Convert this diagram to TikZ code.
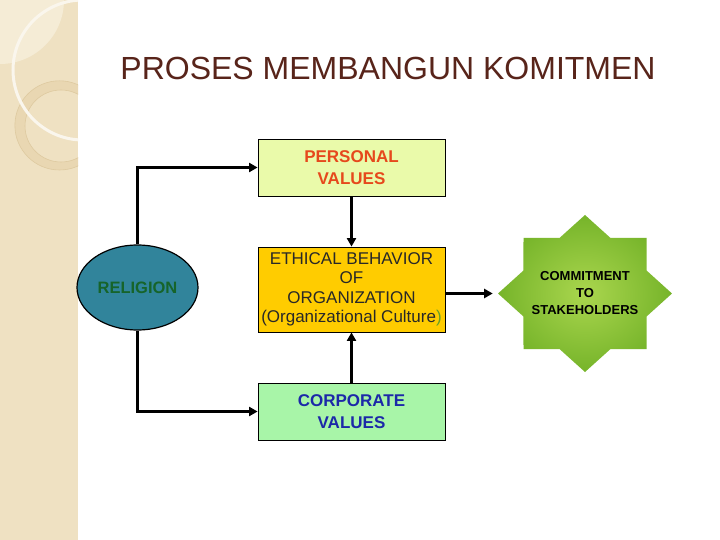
\documentclass[tikz,border=0pt]{standalone}
\usepackage{fontspec}
\setmainfont{Liberation Sans}
\usetikzlibrary{shapes.geometric,arrows.meta}
\definecolor{sidebar}{RGB}{239,225,194}
\definecolor{sidelight}{RGB}{245,236,214}
\definecolor{sidering}{RGB}{233,215,178}
\definecolor{sideline}{RGB}{222,202,160}
\definecolor{titlecol}{RGB}{88,36,26}
\definecolor{pvfill}{RGB}{234,250,170}
\definecolor{pvtext}{RGB}{230,72,28}
\definecolor{ebfill}{RGB}{255,204,0}
\definecolor{ebtext}{RGB}{40,40,40}
\definecolor{ebparen}{RGB}{100,160,40}
\definecolor{cvfill}{RGB}{168,245,168}
\definecolor{cvtext}{RGB}{28,40,168}
\definecolor{relfill}{RGB}{49,132,155}
\definecolor{reltext}{RGB}{22,100,42}
\definecolor{starin}{RGB}{170,214,78}
\definecolor{starout}{RGB}{118,180,42}
\tikzset{
  box/.style={draw=black, line width=0.8pt, minimum width=187pt, inner sep=0pt, align=center},
  conn/.style={line width=3pt, -{Triangle[length=8.5pt,width=9pt]}},
}
\begin{document}
\begin{tikzpicture}[x=1pt,y=-1pt]
\useasboundingbox (0,0) rectangle (720,540);
\fill[white] (0,0) rectangle (720,540);
% sidebar
\begin{scope}
\clip (0,0) rectangle (78,540);
\fill[sidebar] (0,0) rectangle (78,540);
\fill[sidelight] (0,0) circle[radius=64];
\fill[sidering,even odd rule] (59.5,125.4) circle[radius=44.6] (61,126) circle[radius=36];
\draw[sideline, line width=0.6pt] (59.5,125.4) circle[radius=44.6] (61,126) circle[radius=36];
\draw[white!70!sidebar, line width=3pt] (83,70) circle[radius=70];
\end{scope}
% title
\node[text=titlecol, font=\fontsize{32}{36}\selectfont] (title) at (388,68) {PROSES MEMBANGUN KOMITMEN};
% boxes
\node[box, fill=pvfill, minimum height=57pt, text=pvtext, font=\bfseries\fontsize{17}{22}\selectfont] (pv) at (351.5,167.5) {PERSONAL\\VALUES};
\node[box, fill=ebfill, minimum height=85pt, text=ebtext, font=\fontsize{17}{19.5}\selectfont] (eb) at (351.5,289.5) {ETHICAL BEHAVIOR\\OF\\ORGANIZATION\\(Organizational Culture\textcolor{ebparen}{)}};
\node[box, fill=cvfill, minimum height=57pt, text=cvtext, font=\bfseries\fontsize{17}{22}\selectfont] (cv) at (351.5,411.5) {CORPORATE\\VALUES};
\node[ellipse, draw=black, line width=1.2pt, fill=relfill, minimum width=121pt, minimum height=85pt, inner sep=0pt, text=reltext, font=\bfseries\fontsize{16.5}{20}\selectfont] (rel) at (137.5,287.5) {RELIGION};
% star
\node[star, star points=8, star point ratio=1.306, minimum size=157pt, inner sep=0pt, xscale=1.108, shading=radial, inner color=starin, outer color=starout] (st) at (585,293.5) {};
\node[font=\bfseries\fontsize{13}{17}\selectfont, align=center] (sttext) at (st.center) {COMMITMENT\\TO\\STAKEHOLDERS};
% connectors
\draw[conn] (rel.north) |- (pv.west);
\draw[conn] (rel.south) |- (cv.west);
\draw[conn] (pv.south) -- (eb.north);
\draw[conn] (cv.north) -- (eb.south);
\draw[conn, shorten >=5pt] (eb.east |- st.west) -- (st.west);
\end{tikzpicture}
\end{document}
